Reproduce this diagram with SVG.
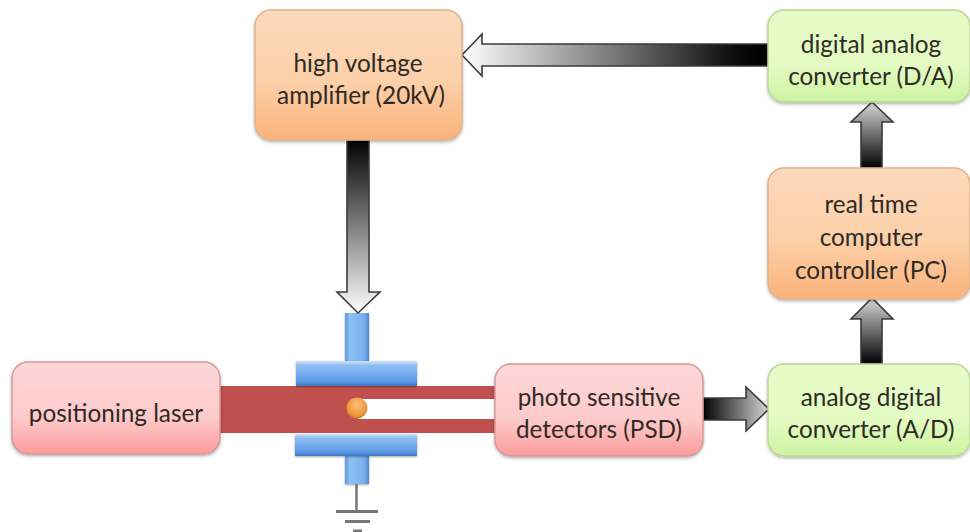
<svg xmlns="http://www.w3.org/2000/svg" width="970" height="532" viewBox="0 0 970 532">
<style>
text{font-family:Lato,"Open Sans","Liberation Sans",sans-serif;font-size:24.300px;text-anchor:middle;fill:#2f2a26}
.box{stroke-width:1.5;filter:url(#sh)}
.or{fill:url(#gO);stroke:#dcb38d}
.gr{fill:url(#gG);stroke:#bcd59a}
.rd{fill:url(#gR);stroke:#d39a9a}
.ar{stroke:#3a3a3a;stroke-width:1.6;stroke-linejoin:miter}
.bl{fill:url(#gB);filter:url(#sh2)}
.st{fill:url(#gS);filter:url(#sh2)}
</style>
<defs>
<linearGradient id="gO" x1="0" y1="0" x2="0" y2="1"><stop offset="0" stop-color="#fbd9bd"/><stop offset=".55" stop-color="#fcd0a8"/><stop offset="1" stop-color="#fbb27a"/></linearGradient>
<linearGradient id="gG" x1="0" y1="0" x2="0" y2="1"><stop offset="0" stop-color="#e6fbc8"/><stop offset=".6" stop-color="#e3fbc3"/><stop offset="1" stop-color="#cdf3a0"/></linearGradient>
<linearGradient id="gR" x1="0" y1="0" x2="0" y2="1"><stop offset="0" stop-color="#fdd7d7"/><stop offset=".6" stop-color="#fdcaca"/><stop offset="1" stop-color="#fb9c9c"/></linearGradient>
<linearGradient id="gB" x1="0" y1="0" x2="0" y2="1"><stop offset="0" stop-color="#cfe3f8"/><stop offset=".18" stop-color="#8fbff2"/><stop offset=".8" stop-color="#5c9ae6"/><stop offset="1" stop-color="#3f78c4"/></linearGradient>
<linearGradient id="gS" x1="0" y1="0" x2="1" y2="0"><stop offset="0" stop-color="#5d97de"/><stop offset=".2" stop-color="#8cc0f5"/><stop offset=".8" stop-color="#78aeee"/><stop offset="1" stop-color="#4f86cf"/></linearGradient>
<linearGradient id="aL" gradientUnits="userSpaceOnUse" x1="768" y1="0" x2="462" y2="0"><stop offset="0" stop-color="#000"/><stop offset=".1" stop-color="#0a0a0a"/><stop offset="1" stop-color="#fff"/></linearGradient>
<linearGradient id="aD" gradientUnits="userSpaceOnUse" x1="0" y1="140" x2="0" y2="313"><stop offset="0" stop-color="#000"/><stop offset="1" stop-color="#fff"/></linearGradient>
<linearGradient id="aR" gradientUnits="userSpaceOnUse" x1="703" y1="0" x2="769" y2="0"><stop offset="0" stop-color="#000"/><stop offset="1" stop-color="#d8d8d8"/></linearGradient>
<linearGradient id="aU1" gradientUnits="userSpaceOnUse" x1="0" y1="168" x2="0" y2="102"><stop offset="0" stop-color="#000"/><stop offset="1" stop-color="#d8d8d8"/></linearGradient>
<linearGradient id="aU2" gradientUnits="userSpaceOnUse" x1="0" y1="364" x2="0" y2="298"><stop offset="0" stop-color="#000"/><stop offset="1" stop-color="#d8d8d8"/></linearGradient>
<radialGradient id="gBall" cx=".5" cy=".35" r=".7"><stop offset="0" stop-color="#fcc27e"/><stop offset=".7" stop-color="#ee9636"/><stop offset="1" stop-color="#c8752a"/></radialGradient>
<filter id="sh" x="-5%" y="-5%" width="110%" height="115%"><feDropShadow dx="0" dy="1.500" stdDeviation="1.500" flood-color="#000" flood-opacity=".3"/></filter>
<filter id="sh2" x="-10%" y="-10%" width="120%" height="130%"><feDropShadow dx="0" dy="1" stdDeviation="1" flood-color="#000" flood-opacity=".35"/></filter>
</defs>
<g id="beam" fill="#c0504d">
<path d="M218 386H497V399H358V419H497V433H218Z"/>
</g>
<g id="capacitor">
<rect x="345" y="313" width="24" height="48" class="st"/>
<rect x="345" y="456" width="24" height="28" class="st"/>
<rect x="296" y="361" width="121" height="25" class="bl"/>
<rect x="295" y="434" width="122" height="22" class="bl"/>
</g>
<g id="ground" stroke="#777" fill="none">
<path d="M356.500 484V511" stroke-width="2.500"/>
<path d="M336 511.500H378" stroke-width="3"/>
<path d="M345 521.500H370" stroke-width="3"/>
<path d="M353 531H362" stroke-width="3"/>
</g>
<circle id="particle" cx="357" cy="408" r="10.500" fill="url(#gBall)"/>
<g id="connectors" class="ar">
<path fill="url(#aL)" d="M768 44H482V34L462 55 482 76V66H768Z"/>
<path fill="url(#aD)" d="M347 140H369V292H380L358 313 337 292H347Z"/>
<path fill="url(#aR)" d="M703 398H746V387L769 409 746 431V420H703Z"/>
<path fill="url(#aU1)" d="M861 168V122H851L872 102 893 122H882V168Z"/>
<path fill="url(#aU2)" d="M861 364V319H851L872 298 893 319H882V364Z"/>
</g>
<g id="hv"><rect class="box or" x="255" y="10" width="207" height="130" rx="16"/><text x="358" y="72">high voltage</text><text x="361" y="104">amplifier (20kV)</text></g>
<g id="da"><rect class="box gr" x="768" y="10" width="202" height="92" rx="16"/><text x="871" y="53">digital analog</text><text x="871" y="85">converter (D/A)</text></g>
<g id="pc"><rect class="box or" x="768" y="168" width="202" height="131" rx="16"/><text x="871" y="213">real time</text><text x="871" y="246">computer</text><text x="871" y="279">controller (PC)</text></g>
<g id="ad"><rect class="box gr" x="768" y="364" width="202" height="92" rx="16"/><text x="871" y="406">analog digital</text><text x="871" y="438">converter (A/D)</text></g>
<g id="psd"><rect class="box rd" x="495" y="364" width="208" height="92" rx="16"/><text x="599" y="406">photo sensitive</text><text x="599" y="438">detectors (PSD)</text></g>
<g id="laser"><rect class="box rd" x="12" y="362" width="208" height="92" rx="16"/><text x="116" y="422">positioning laser</text></g>
</svg>
